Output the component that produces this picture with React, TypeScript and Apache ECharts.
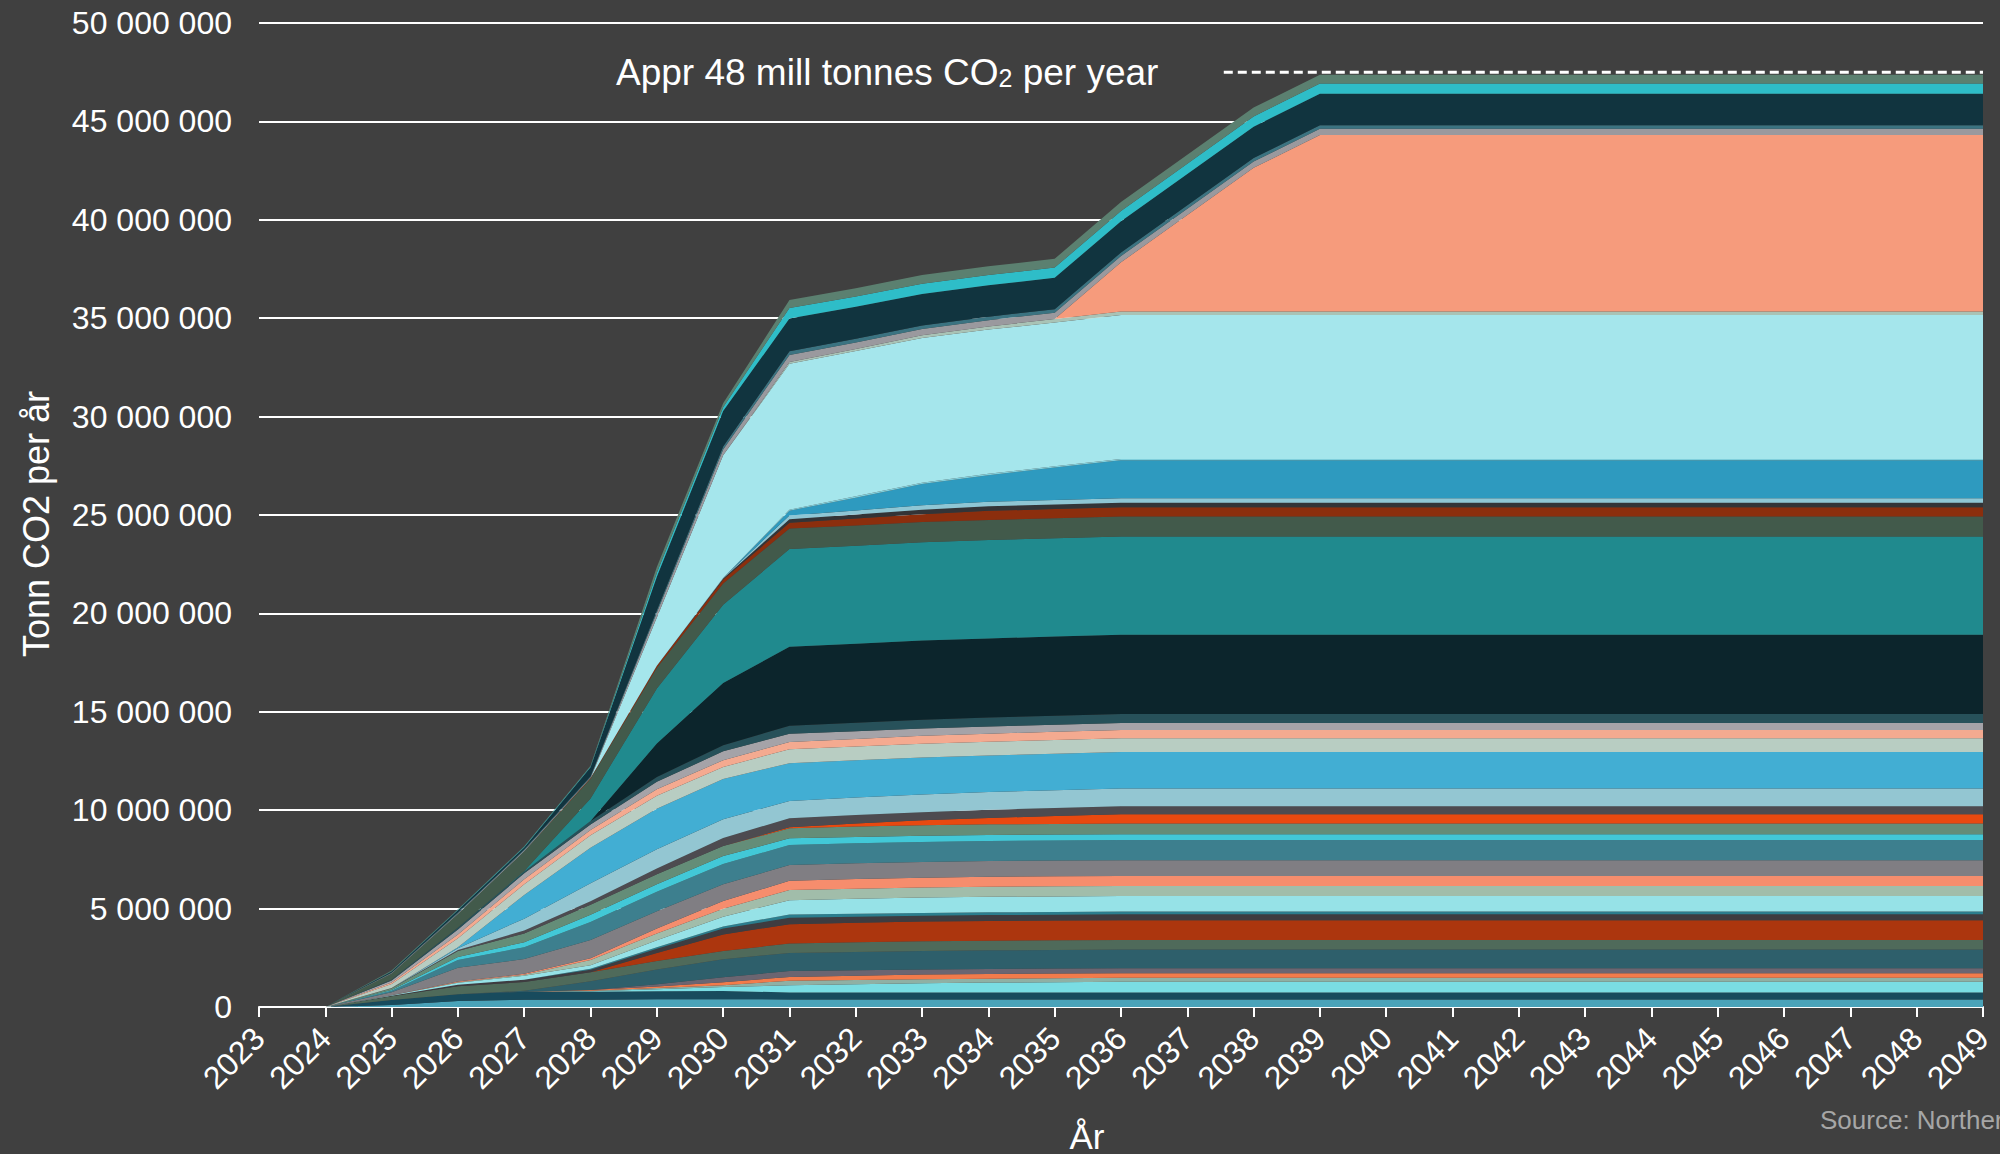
import React, { useEffect, useRef } from "react";
import * as echarts from "echarts";

// Years covered by the stacked areas (x axis runs 2023–2049)
const years = [2024, 2025, 2026, 2027, 2028, 2029, 2030, 2031, 2032, 2033, 2034, 2035, 2036, 2037, 2038, 2039, 2040, 2041, 2042, 2043, 2044, 2045, 2046, 2047, 2048, 2049];

// Layer values in million tonnes CO2 per year, bottom layer first (2024 … 2049)
const s01 = [0, 0.10, 0.30, 0.37, 0.37, 0.39, 0.40, 0.38, 0.38, 0.38, 0.38, 0.38, 0.38, 0.38, 0.38, 0.38, 0.38, 0.38, 0.38, 0.38, 0.38, 0.38, 0.38, 0.38, 0.38, 0.38];
const s02 = [0, 0.25, 0.35, 0.40, 0.40, 0.41, 0.41, 0.36, 0.36, 0.36, 0.36, 0.36, 0.36, 0.36, 0.36, 0.36, 0.36, 0.36, 0.36, 0.36, 0.36, 0.36, 0.36, 0.36, 0.36, 0.36];
const s03 = [0, 0, 0, 0, 0.03, 0.10, 0.20, 0.37, 0.42, 0.47, 0.50, 0.52, 0.54, 0.54, 0.54, 0.54, 0.54, 0.54, 0.54, 0.54, 0.54, 0.54, 0.54, 0.54, 0.54, 0.54];
const s04 = [0, 0, 0, 0, 0.03, 0.06, 0.10, 0.22, 0.21, 0.20, 0.20, 0.20, 0.20, 0.20, 0.20, 0.20, 0.20, 0.20, 0.20, 0.20, 0.20, 0.20, 0.20, 0.20, 0.20, 0.20];
const s05 = [0, 0, 0, 0, 0.03, 0.08, 0.15, 0.20, 0.22, 0.24, 0.24, 0.24, 0.24, 0.24, 0.24, 0.24, 0.24, 0.24, 0.24, 0.24, 0.24, 0.24, 0.24, 0.24, 0.24, 0.24];
const s06 = [0, 0, 0, 0, 0, 0.12, 0.25, 0.30, 0.28, 0.26, 0.25, 0.25, 0.25, 0.25, 0.25, 0.25, 0.25, 0.25, 0.25, 0.25, 0.25, 0.25, 0.25, 0.25, 0.25, 0.25];
const s07 = [0, 0, 0, 0.05, 0.45, 0.75, 0.92, 0.92, 0.93, 0.94, 0.95, 0.95, 0.95, 0.95, 0.95, 0.95, 0.95, 0.95, 0.95, 0.95, 0.95, 0.95, 0.95, 0.95, 0.95, 0.95];
const s08 = [0, 0.20, 0.40, 0.45, 0.45, 0.43, 0.41, 0.48, 0.49, 0.49, 0.49, 0.49, 0.49, 0.49, 0.49, 0.49, 0.49, 0.49, 0.49, 0.49, 0.49, 0.49, 0.49, 0.49, 0.49, 0.49];
const s09 = [0, 0, 0, 0, 0, 0.40, 0.85, 0.98, 0.99, 1.00, 1.00, 1.00, 1.00, 1.00, 1.00, 1.00, 1.00, 1.00, 1.00, 1.00, 1.00, 1.00, 1.00, 1.00, 1.00, 1.00];
const s10 = [0, 0.02, 0.08, 0.12, 0.13, 0.22, 0.30, 0.32, 0.31, 0.30, 0.30, 0.30, 0.30, 0.30, 0.30, 0.30, 0.30, 0.30, 0.30, 0.30, 0.30, 0.30, 0.30, 0.30, 0.30, 0.30];
const s11 = [0, 0, 0, 0, 0.05, 0.08, 0.10, 0.17, 0.15, 0.14, 0.14, 0.14, 0.14, 0.14, 0.14, 0.14, 0.14, 0.14, 0.14, 0.14, 0.14, 0.14, 0.14, 0.14, 0.14, 0.14];
const s12 = [0, 0.03, 0.10, 0.20, 0.18, 0.35, 0.50, 0.73, 0.76, 0.78, 0.79, 0.79, 0.79, 0.79, 0.79, 0.79, 0.79, 0.79, 0.79, 0.79, 0.79, 0.79, 0.79, 0.79, 0.79, 0.79];
const s13 = [0, 0, 0.03, 0.05, 0.27, 0.35, 0.40, 0.51, 0.51, 0.51, 0.51, 0.51, 0.51, 0.51, 0.51, 0.51, 0.51, 0.51, 0.51, 0.51, 0.51, 0.51, 0.51, 0.51, 0.51, 0.51];
const s14 = [0, 0, 0.03, 0.05, 0.09, 0.25, 0.40, 0.47, 0.49, 0.50, 0.51, 0.51, 0.51, 0.51, 0.51, 0.51, 0.51, 0.51, 0.51, 0.51, 0.51, 0.51, 0.51, 0.51, 0.51, 0.51];
const s15 = [0, 0.15, 0.70, 0.75, 0.92, 0.88, 0.85, 0.80, 0.80, 0.80, 0.80, 0.80, 0.80, 0.80, 0.80, 0.80, 0.80, 0.80, 0.80, 0.80, 0.80, 0.80, 0.80, 0.80, 0.80, 0.80];
const s16 = [0, 0.08, 0.40, 0.60, 0.92, 0.98, 1.02, 1.02, 1.02, 1.02, 1.02, 1.02, 1.02, 1.02, 1.02, 1.02, 1.02, 1.02, 1.02, 1.02, 1.02, 1.02, 1.02, 1.02, 1.02, 1.02];
const s17 = [0, 0.04, 0.15, 0.25, 0.37, 0.39, 0.41, 0.34, 0.32, 0.31, 0.30, 0.30, 0.30, 0.30, 0.30, 0.30, 0.30, 0.30, 0.30, 0.30, 0.30, 0.30, 0.30, 0.30, 0.30, 0.30];
const s18 = [0, 0.08, 0.30, 0.45, 0.50, 0.50, 0.51, 0.51, 0.53, 0.54, 0.54, 0.54, 0.54, 0.54, 0.54, 0.54, 0.54, 0.54, 0.54, 0.54, 0.54, 0.54, 0.54, 0.54, 0.54, 0.54];
const s19 = [0, 0, 0, 0, 0, 0, 0, 0.05, 0.15, 0.25, 0.33, 0.40, 0.47, 0.47, 0.47, 0.47, 0.47, 0.47, 0.47, 0.47, 0.47, 0.47, 0.47, 0.47, 0.47, 0.47];
const s20 = [0, 0.02, 0.05, 0.15, 0.18, 0.30, 0.41, 0.46, 0.43, 0.41, 0.41, 0.41, 0.41, 0.41, 0.41, 0.41, 0.41, 0.41, 0.41, 0.41, 0.41, 0.41, 0.41, 0.41, 0.41, 0.41];
const s21 = [0, 0, 0.10, 0.60, 0.92, 0.98, 0.95, 0.88, 0.89, 0.90, 0.90, 0.90, 0.90, 0.90, 0.90, 0.90, 0.90, 0.90, 0.90, 0.90, 0.90, 0.90, 0.90, 0.90, 0.90, 0.90];
const s22 = [0, 0, 0.05, 1.20, 1.80, 2.05, 2.05, 1.92, 1.90, 1.88, 1.86, 1.86, 1.86, 1.86, 1.86, 1.86, 1.86, 1.86, 1.86, 1.86, 1.86, 1.86, 1.86, 1.86, 1.86, 1.86];
const s23 = [0, 0.20, 0.45, 0.55, 0.64, 0.67, 0.60, 0.71, 0.70, 0.70, 0.70, 0.70, 0.70, 0.70, 0.70, 0.70, 0.70, 0.70, 0.70, 0.70, 0.70, 0.70, 0.70, 0.70, 0.70, 0.70];
const s24 = [0, 0.08, 0.20, 0.25, 0.27, 0.32, 0.35, 0.36, 0.38, 0.40, 0.41, 0.41, 0.41, 0.41, 0.41, 0.41, 0.41, 0.41, 0.41, 0.41, 0.41, 0.41, 0.41, 0.41, 0.41, 0.41];
const s25 = [0, 0.10, 0.25, 0.30, 0.27, 0.38, 0.45, 0.42, 0.39, 0.37, 0.36, 0.36, 0.36, 0.36, 0.36, 0.36, 0.36, 0.36, 0.36, 0.36, 0.36, 0.36, 0.36, 0.36, 0.36, 0.36];
const s26 = [0, 0.05, 0.10, 0.10, 0.18, 0.25, 0.31, 0.41, 0.43, 0.45, 0.46, 0.46, 0.46, 0.46, 0.46, 0.46, 0.46, 0.46, 0.46, 0.46, 0.46, 0.46, 0.46, 0.46, 0.46, 0.46];
const s27 = [0, 0, 0, 0, 0, 1.70, 3.16, 4.02, 4.02, 4.02, 4.02, 4.02, 4.02, 4.02, 4.02, 4.02, 4.02, 4.02, 4.02, 4.02, 4.02, 4.02, 4.02, 4.02, 4.02, 4.02];
const s28 = [0, 0, 0, 0.02, 1.15, 2.80, 3.98, 4.96, 4.98, 5.00, 5.00, 5.00, 5.00, 5.00, 5.00, 5.00, 5.00, 5.00, 5.00, 5.00, 5.00, 5.00, 5.00, 5.00, 5.00, 5.00];
const s29 = [0, 0.30, 0.68, 1.00, 1.00, 1.05, 1.08, 1.05, 1.03, 1.02, 1.02, 1.02, 1.02, 1.02, 1.02, 1.02, 1.02, 1.02, 1.02, 1.02, 1.02, 1.02, 1.02, 1.02, 1.02, 1.02];
const s30 = [0, 0, 0, 0, 0.03, 0.10, 0.20, 0.28, 0.35, 0.40, 0.46, 0.46, 0.46, 0.46, 0.46, 0.46, 0.46, 0.46, 0.46, 0.46, 0.46, 0.46, 0.46, 0.46, 0.46, 0.46];
const s31 = [0, 0, 0, 0, 0, 0, 0.05, 0.19, 0.21, 0.23, 0.23, 0.23, 0.23, 0.23, 0.23, 0.23, 0.23, 0.23, 0.23, 0.23, 0.23, 0.23, 0.23, 0.23, 0.23, 0.23];
const s32 = [0, 0, 0, 0, 0, 0, 0.03, 0.19, 0.20, 0.23, 0.23, 0.23, 0.23, 0.23, 0.23, 0.23, 0.23, 0.23, 0.23, 0.23, 0.23, 0.23, 0.23, 0.23, 0.23, 0.23];
const s33 = [0, 0, 0, 0, 0, 0, 0, 0.24, 0.65, 1.07, 1.35, 1.65, 1.93, 1.93, 1.93, 1.93, 1.93, 1.93, 1.93, 1.93, 1.93, 1.93, 1.93, 1.93, 1.93, 1.93];
const s34 = [0, 0, 0, 0, 0, 0, 0, 0.05, 0.07, 0.07, 0.07, 0.07, 0.07, 0.07, 0.07, 0.07, 0.07, 0.07, 0.07, 0.07, 0.07, 0.07, 0.07, 0.07, 0.07, 0.07];
const s35 = [0, 0, 0, 0, 0, 2.45, 6.23, 7.42, 7.38, 7.35, 7.33, 7.30, 7.31, 7.31, 7.31, 7.31, 7.31, 7.31, 7.31, 7.31, 7.31, 7.31, 7.31, 7.31, 7.31, 7.31];
const s36 = [0, 0, 0, 0, 0, 0, 0, 0.08, 0.10, 0.14, 0.16, 0.18, 0.18, 0.18, 0.18, 0.18, 0.18, 0.18, 0.18, 0.18, 0.18, 0.18, 0.18, 0.18, 0.18, 0.18];
const s37 = [0, 0, 0, 0, 0, 0, 0, 0, 0, 0, 0, 0, 2.50, 4.90, 7.30, 8.97, 8.97, 8.97, 8.97, 8.97, 8.97, 8.97, 8.97, 8.97, 8.97, 8.97];
const s38 = [0, 0.03, 0.05, 0.05, 0.05, 0.25, 0.30, 0.36, 0.34, 0.32, 0.32, 0.32, 0.32, 0.32, 0.32, 0.32, 0.32, 0.32, 0.32, 0.32, 0.32, 0.32, 0.32, 0.32, 0.32, 0.32];
const s39 = [0, 0.02, 0.04, 0.05, 0.05, 0.12, 0.15, 0.19, 0.18, 0.18, 0.18, 0.18, 0.18, 0.18, 0.18, 0.18, 0.18, 0.18, 0.18, 0.18, 0.18, 0.18, 0.18, 0.18, 0.18, 0.18];
const s40 = [0, 0.05, 0.10, 0.10, 0.45, 1.70, 1.80, 1.66, 1.63, 1.60, 1.59, 1.59, 1.59, 1.59, 1.59, 1.59, 1.59, 1.59, 1.59, 1.59, 1.59, 1.59, 1.59, 1.59, 1.59, 1.59];
const s41 = [0, 0.02, 0.03, 0.03, 0.04, 0.20, 0.20, 0.54, 0.52, 0.52, 0.52, 0.52, 0.52, 0.52, 0.52, 0.52, 0.52, 0.52, 0.52, 0.52, 0.52, 0.52, 0.52, 0.52, 0.52, 0.52];
const s42 = [0, 0.03, 0.03, 0.03, 0.04, 0.30, 0.20, 0.40, 0.42, 0.44, 0.45, 0.45, 0.45, 0.45, 0.45, 0.45, 0.45, 0.45, 0.45, 0.45, 0.45, 0.45, 0.45, 0.45, 0.45, 0.45];

const layers = [s01, s02, s03, s04, s05, s06, s07, s08, s09, s10, s11, s12, s13, s14, s15, s16, s17, s18, s19, s20, s21, s22, s23, s24, s25, s26, s27, s28, s29, s30, s31, s32, s33, s34, s35, s36, s37, s38, s39, s40, s41, s42];

const colors = [
  "#4aa3b9", "#184b5d", "#7adde3", "#8fb0a4", "#f27b4b", "#6b6571", "#2e5f6b", "#4f6a5a",
  "#ac360e", "#3e3c40", "#2b7e8e", "#96e2e7", "#a1bdaa", "#f68d6d", "#807e83", "#3d7f8e",
  "#42c8d7", "#648d78", "#e84910", "#4d4b50", "#93c6d2", "#42aed3", "#b8cdc2", "#f4aa90",
  "#a5a3a8", "#27515a", "#0c252c", "#208a8e", "#425a4b", "#8b2e0d", "#333437", "#8fc6d4",
  "#2e9abf", "#7fcfdc", "#a5e6ec", "#a9c3b6", "#f69b7c", "#9a999e", "#3b7381", "#11343f",
  "#2ebdc8", "#5b8070",
];

// Reference level: approx. 48 mill tonnes, drawn from mid-2037 to 2049
const refLevel = 47.5;
const refStart = 2037.55;
const refEnd = 2049;

const yTicks = { min: 0, max: 50, step: 5 };

const FONT = "'Liberation Sans', Arial, Helvetica, sans-serif";

const fmtSpaces = (v: number) => String(Math.round(v)).replace(/\B(?=(\d{3})+(?!\d))/g, " ");

export default function App() {
  const ref = useRef<HTMLDivElement>(null);

  useEffect(() => {
    if (!ref.current) return;
    const chart = echarts.init(ref.current, null, { renderer: "svg" });

    // rows are [value, year]; the value (dimension 0) is the stacked dimension, shown on y
    const series: any[] = layers.map((arr, idx) => ({
      name: "L" + (idx + 1),
      type: "line",
      stack: "co2",
      data: years.map((y, i) => [arr[i] * 1e6, y]),
      encode: { x: 1, y: 0 },
      symbol: "none",
      showSymbol: false,
      silent: true,
      lineStyle: { width: 0, color: colors[idx] },
      itemStyle: { color: colors[idx] },
      areaStyle: { color: colors[idx], opacity: 1 },
      emphasis: { disabled: true },
      z: 2,
    }));

    chart.setOption({
      animation: false,
      backgroundColor: "#404040",
      grid: { left: 259, right: 17, top: 23, bottom: 147, containLabel: false },
      xAxis: {
        type: "value",
        min: 2023,
        max: 2049,
        interval: 1,
        axisLine: { show: true, lineStyle: { color: "#ffffff", width: 2 } },
        axisTick: { show: true, length: 10, lineStyle: { color: "#ffffff", width: 2 } },
        splitLine: { show: false },
        axisLabel: {
          color: "#ffffff",
          fontSize: 32,
          fontFamily: FONT,
          rotate: 45,
          margin: 26,
          showMinLabel: true,
          showMaxLabel: true,
          formatter: (v: number) => String(v),
        },
      },
      yAxis: {
        type: "value",
        min: yTicks.min * 1e6,
        max: yTicks.max * 1e6,
        interval: yTicks.step * 1e6,
        axisLine: { show: false },
        axisTick: { show: false },
        splitLine: { show: true, lineStyle: { color: "#ffffff", width: 2 } },
        axisLabel: {
          color: "#ffffff",
          fontSize: 32,
          fontFamily: FONT,
          margin: 27,
          formatter: (v: number) => fmtSpaces(v),
        },
      },
      series: [
        ...series,
        {
          name: "ref",
          type: "line",
          data: [
            [refStart, refLevel * 1e6],
            [refEnd, refLevel * 1e6],
          ],
          symbol: "none",
          silent: true,
          lineStyle: { color: "#ffffff", width: 3, type: [9, 5] },
          z: 5,
        },
      ],
      graphic: [
        {
          type: "text",
          x: 616,
          y: 72,
          silent: true,
          style: {
            text: "{a|Appr 48 mill tonnes CO}{s|2}{a| per year}",
            fill: "#ffffff",
            verticalAlign: "middle",
            textVerticalAlign: "middle",
            rich: {
              a: { fontSize: 37, fontFamily: FONT, fill: "#ffffff", color: "#ffffff" },
              s: { fontSize: 25, fontFamily: FONT, fill: "#ffffff", color: "#ffffff", verticalAlign: "bottom", lineHeight: 18 },
            },
          },
        },
        {
          type: "text",
          x: 36,
          y: 524,
          rotation: Math.PI / 2,
          silent: true,
          style: {
            text: "Tonn CO2 per år",
            fill: "#ffffff",
            fontSize: 36,
            fontFamily: FONT,
            align: "center",
            textAlign: "center",
            verticalAlign: "middle",
            textVerticalAlign: "middle",
          },
        },
        {
          type: "text",
          x: 1087,
          y: 1136,
          silent: true,
          style: {
            text: "År",
            fill: "#ffffff",
            fontSize: 35,
            fontFamily: FONT,
            align: "center",
            textAlign: "center",
            verticalAlign: "middle",
            textVerticalAlign: "middle",
          },
        },
        {
          type: "text",
          x: 1820,
          y: 1120,
          silent: true,
          style: {
            text: "Source: Northern Lights",
            fill: "#a6a6a6",
            fontSize: 26,
            fontFamily: FONT,
            verticalAlign: "middle",
            textVerticalAlign: "middle",
          },
        },
      ],
    });

    return () => chart.dispose();
  }, []);

  return (
    <div
      ref={ref}
      style={{ position: "fixed", left: 0, top: 0, width: 2000, height: 1154, background: "#404040" }}
    />
  );
}
